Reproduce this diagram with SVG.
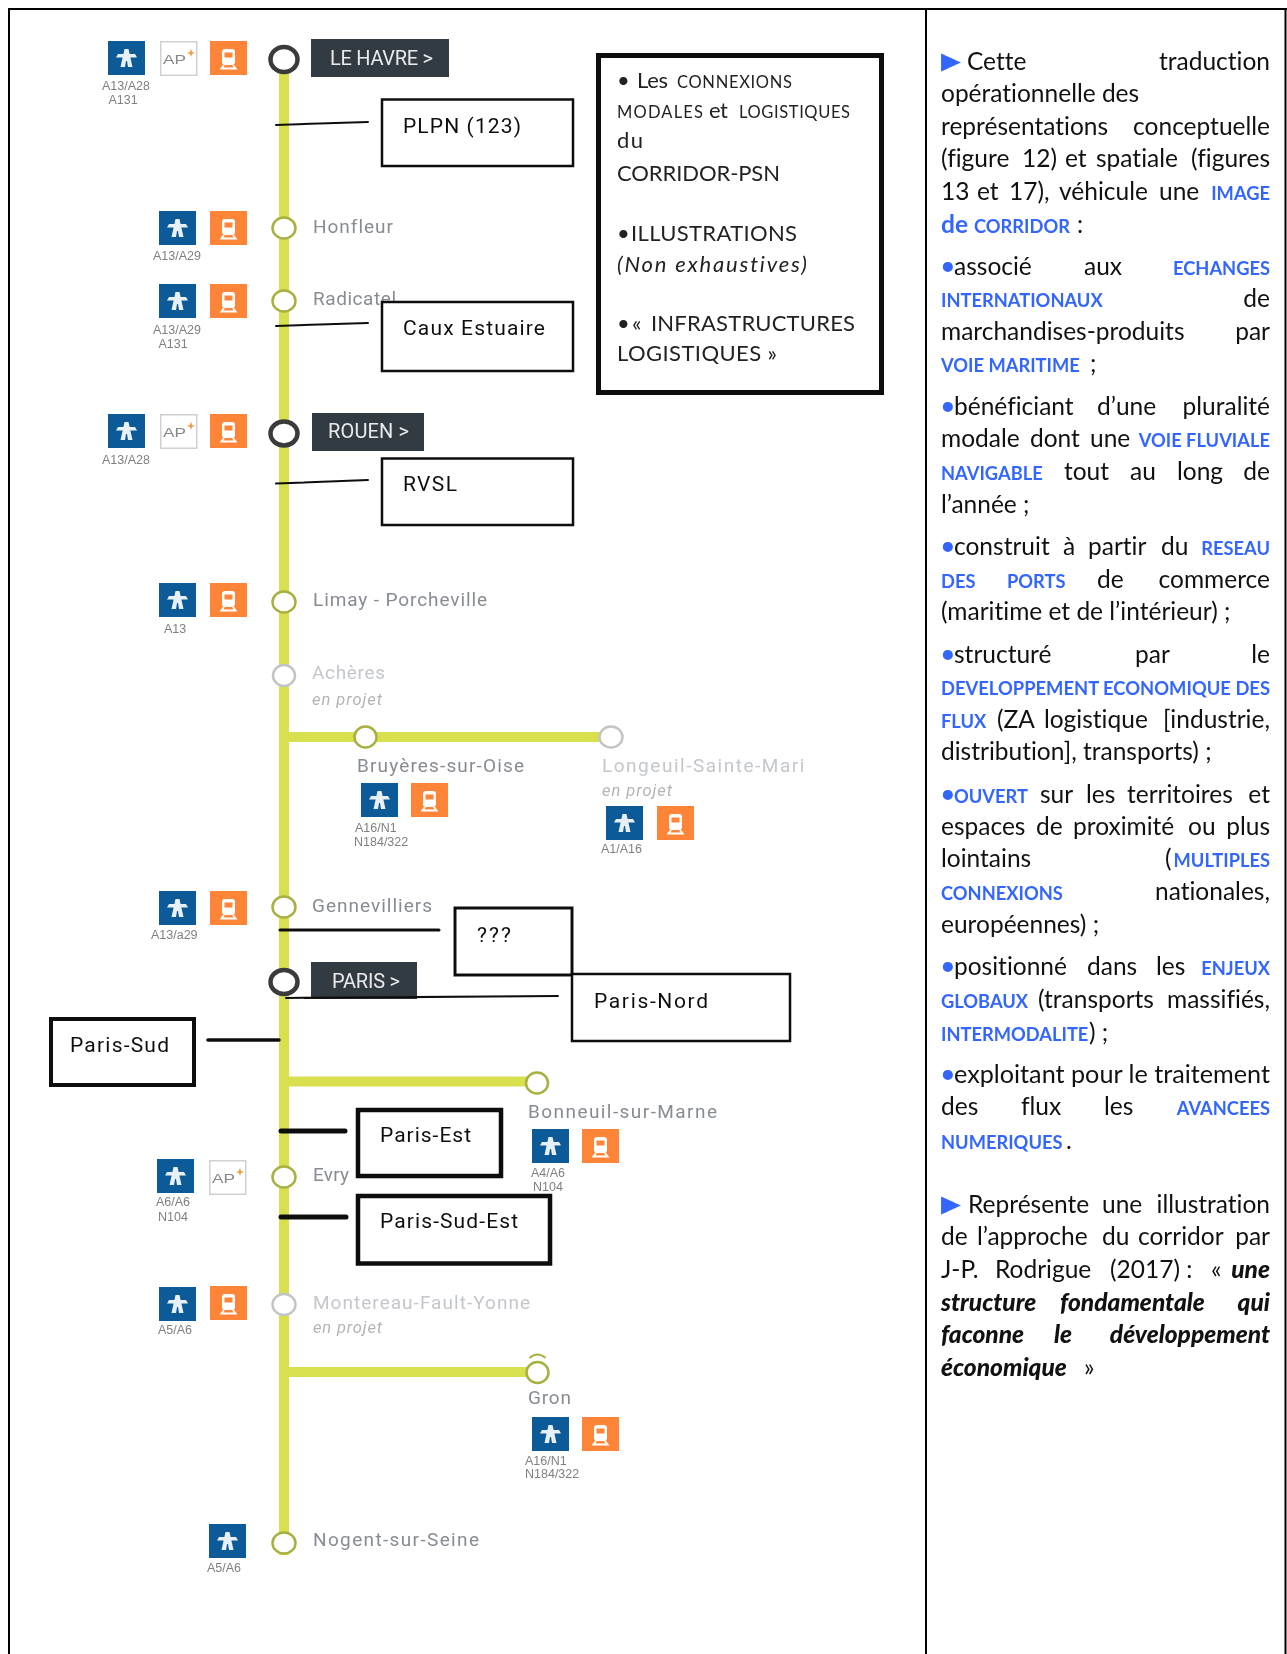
<svg xmlns="http://www.w3.org/2000/svg" width="1287" height="1654" viewBox="0 0 1287 1654">
<style>
text{font-family:"Lato","Liberation Sans",sans-serif;fill:#111;font-variant-ligatures:none}
.st{font-family:"Roboto","Liberation Sans",sans-serif;font-size:19px;fill:#878c93}
.pr{font-family:"Roboto","Liberation Sans",sans-serif;font-size:19px;fill:#c3c7cb}
.ep{font-family:"Roboto","Liberation Sans",sans-serif;font-size:16.500px;font-style:italic;fill:#b4b4b4}
.hub{font-family:"Roboto","Liberation Sans",sans-serif;font-size:20px;fill:#e8eaec}
.sm{font-family:"Liberation Sans",sans-serif;font-size:12.500px;fill:#808080;text-anchor:middle}
.sl{font-family:"Liberation Sans",sans-serif;font-size:12.500px;fill:#808080}
.apt{font-family:"Liberation Sans",sans-serif;font-size:13px;fill:#888}
.bx{font-family:"Roboto","Liberation Sans",sans-serif;font-size:21px;fill:#111}
.lg{font-size:22px;fill:#222}
.lgs{font-size:16.500px;fill:#222}
.t{font-size:24.500px;fill:#111}
.e{text-anchor:end}
.h{font-size:18.300px;font-weight:700;fill:#3366ff}
.bi{font-weight:900;font-style:italic}
.bu{font-size:27px;fill:#3366ff}
.tri{font-family:"DejaVu Sans",sans-serif;font-size:26px;fill:#3366ff}
.trunk{fill:none;stroke:#d8e04e;stroke-width:10}
.lead{fill:none;stroke:#111;stroke-linecap:round}
.hubc{fill:#fff;stroke:#3a3a3a;stroke-width:4.500}
.stop{fill:#fff;stroke:#a8b040;stroke-width:2.500}
.plan{fill:#fff;stroke:#c2c4c6;stroke-width:2.500}
.box{fill:#fff;stroke:#111}
.frame{fill:none;stroke:#000;stroke-width:2}
</style>
<defs>
<filter id="soft" filterUnits="userSpaceOnUse" x="0" y="0" width="926" height="1654"><feGaussianBlur stdDeviation="0.55"/></filter>
<clipPath id="cutLong"><rect x="590" y="750" width="216" height="40"/></clipPath>
<g id="road"><rect width="37" height="34" fill="#0b5a99"/><path d="M16.500 8h4l4 18h-4.500l-1-6h-1l-1 6h-4.500zM10 13h17l2 3.500H8z" fill="#e8f0f6"/></g>
<g id="rail"><rect width="37" height="34" fill="#fe8439"/><path d="M15 8h7a3 3 0 0 1 3 3v10a3 3 0 0 1-3 3h-7a3 3 0 0 1-3-3V11a3 3 0 0 1 3-3z" fill="#fff"/><rect x="14.500" y="11.500" width="8" height="5" fill="#fe8439"/><path d="M14 24l-2.500 3.500h14l-2.500-3.500" fill="none" stroke="#fff" stroke-width="2"/></g>
<g id="airbox"><rect x=".75" y=".75" width="36" height="33.500" fill="#fff" stroke="#d0d0d0" stroke-width="1.500"/><path d="M30 11l1-3.500 1 3.500 3 1-3 1-1 3-1-3-3-1z" fill="#f39a3c"/></g>
</defs>

<g id="diagram" filter="url(#soft)">
<g id="connectors">
<path class="trunk" d="M284 60V1555"/>
<path class="trunk" d="M284 737H611"/>
<path class="trunk" d="M284 1081.500H537"/>
<path class="trunk" d="M284 1372H537"/>
</g>

<g id="le-havre">
<use href="#road" x="108" y="41"/><use href="#airbox" x="160" y="41"/><text class="apt" x="163" y="64" textLength="23" lengthAdjust="spacingAndGlyphs">AP</text><use href="#rail" x="210" y="41"/>
<text class="sm" x="126" y="90">A13/A28</text><text class="sm" x="123" y="104">A131</text>
<ellipse class="hubc" cx="284" cy="59.500" rx="13.500" ry="12.500"/>
<rect x="311" y="39" width="138" height="38" fill="#333a43"/><text class="hub" x="330" y="65" textLength="103" lengthAdjust="spacing">LE HAVRE &gt;</text>
</g>
<g id="honfleur">
<use href="#road" x="159" y="211"/><use href="#rail" x="210" y="211"/><text class="sm" x="177" y="260">A13/A29</text>
<ellipse class="stop" cx="284" cy="228" rx="11.500" ry="10.500"/><text class="st" x="313" y="233" textLength="80" lengthAdjust="spacing">Honfleur</text>
</g>
<g id="radicatel">
<use href="#road" x="159" y="284"/><use href="#rail" x="210" y="284"/><text class="sm" x="177" y="334">A13/A29</text><text class="sm" x="173" y="348">A131</text>
<ellipse class="stop" cx="284" cy="301" rx="11.500" ry="10.500"/><text class="st" x="313" y="305" textLength="83" lengthAdjust="spacing">Radicatel</text>
</g>
<g id="rouen">
<use href="#road" x="108" y="414"/><use href="#airbox" x="160" y="414"/><text class="apt" x="163" y="437" textLength="23" lengthAdjust="spacingAndGlyphs">AP</text><use href="#rail" x="210" y="414"/><text class="sm" x="126" y="464">A13/A28</text>
<ellipse class="hubc" cx="284" cy="433.500" rx="13.500" ry="12"/>
<rect x="312" y="413" width="112" height="38" fill="#333a43"/><text class="hub" x="328" y="438" textLength="81" lengthAdjust="spacing">ROUEN &gt;</text>
</g>
<g id="limay">
<use href="#road" x="159" y="583"/><use href="#rail" x="210" y="583"/><text class="sm" x="175" y="633">A13</text>
<ellipse class="stop" cx="284" cy="602" rx="11.500" ry="10.500"/><text class="st" x="313" y="606" textLength="174" lengthAdjust="spacing">Limay - Porcheville</text>
</g>
<g id="acheres">
<ellipse class="plan" cx="284" cy="675.500" rx="11" ry="10.500"/><text class="pr" x="312" y="679" textLength="73" lengthAdjust="spacing">Achères</text><text class="ep" x="312" y="705" textLength="70" lengthAdjust="spacing">en projet</text>
</g>
<g id="bruyeres">
<ellipse class="stop" cx="365.500" cy="737" rx="11" ry="10.500"/><text class="st" x="357" y="772" textLength="167" lengthAdjust="spacing">Bruyères-sur-Oise</text>
<use href="#road" x="361" y="783"/><use href="#rail" x="411" y="783"/><text class="sl" x="355" y="832">A16/N1</text><text class="sl" x="354" y="846">N184/322</text>
</g>
<g id="longeuil">
<ellipse class="plan" cx="611" cy="737" rx="11.500" ry="10.500"/><g clip-path="url(#cutLong)"><text class="pr" x="602" y="772" textLength="214" lengthAdjust="spacing">Longeuil-Sainte-Marie</text></g><text class="ep" x="602" y="796" textLength="70" lengthAdjust="spacing">en projet</text>
<use href="#road" x="606" y="806"/><use href="#rail" x="657" y="806"/><text class="sl" x="601" y="853">A1/A16</text>
</g>
<g id="gennevilliers">
<use href="#road" x="159" y="891"/><use href="#rail" x="210" y="891"/><text class="sl" x="151" y="939">A13/a29</text>
<ellipse class="stop" cx="284" cy="907" rx="11.500" ry="10.500"/><text class="st" x="312" y="912" textLength="120" lengthAdjust="spacing">Gennevilliers</text>
</g>
<g id="paris">
<ellipse class="hubc" cx="284" cy="982" rx="13.500" ry="12"/>
<rect x="311" y="962" width="106" height="37" fill="#333a43"/><text class="hub" x="332" y="988" textLength="68" lengthAdjust="spacing">PARIS &gt;</text>
</g>
<g id="bonneuil">
<ellipse class="stop" cx="537" cy="1083" rx="11" ry="10.500"/><text class="st" x="528" y="1118" textLength="189" lengthAdjust="spacing">Bonneuil-sur-Marne</text>
<use href="#road" x="532" y="1129"/><use href="#rail" x="582" y="1129"/><text class="sm" x="548" y="1177">A4/A6</text><text class="sm" x="548" y="1191">N104</text>
</g>
<g id="evry">
<use href="#road" x="157" y="1159"/><use href="#airbox" x="209" y="1160"/><text class="apt" x="212" y="1183" textLength="23" lengthAdjust="spacingAndGlyphs">AP</text><text class="sm" x="173" y="1206">A6/A6</text><text class="sm" x="173" y="1221">N104</text>
<ellipse class="stop" cx="284" cy="1177" rx="11.500" ry="10.500"/><text class="st" x="313" y="1181" textLength="36" lengthAdjust="spacing">Evry</text>
</g>
<g id="montereau">
<use href="#road" x="159" y="1287"/><use href="#rail" x="210" y="1286"/><text class="sm" x="175" y="1334">A5/A6</text>
<ellipse class="plan" cx="284" cy="1304.500" rx="11.500" ry="10.500"/><text class="pr" x="313" y="1309" textLength="217" lengthAdjust="spacing">Montereau-Fault-Yonne</text><text class="ep" x="313" y="1333" textLength="69" lengthAdjust="spacing">en projet</text>
</g>
<g id="gron">
<path d="M529.500 1358q8-7 16 0" fill="none" stroke="#a8b040" stroke-width="1.800"/>
<ellipse class="stop" cx="537.500" cy="1372.500" rx="11" ry="10.500"/><text class="st" x="528" y="1404" textLength="43" lengthAdjust="spacing">Gron</text>
<use href="#road" x="532" y="1417"/><use href="#rail" x="582" y="1417"/><text class="sl" x="525" y="1465">A16/N1</text><text class="sl" x="525" y="1478">N184/322</text>
</g>
<g id="nogent">
<use href="#road" x="209" y="1524"/><text class="sm" x="224" y="1572">A5/A6</text>
<ellipse class="stop" cx="284" cy="1543" rx="11.500" ry="10.500"/><text class="st" x="313" y="1546" textLength="166" lengthAdjust="spacing">Nogent-sur-Seine</text>
</g>

<g id="leader-connectors">
<path class="lead" stroke-width="2" d="M276 125L368 122"/>
<path class="lead" stroke-width="2" d="M276 326L368 323"/>
<path class="lead" stroke-width="2" d="M276 483.500L368 480"/>
<path class="lead" stroke-width="3" d="M280 930H439"/>
<path class="lead" stroke-width="2" d="M286 998L558 996"/>
<path class="lead" stroke-width="3.500" d="M208 1040H279"/>
<path class="lead" stroke-width="5" d="M281 1131H345"/>
<path class="lead" stroke-width="5" d="M281 1217H346"/>
</g>

<g id="box-plpn"><rect class="box" x="382" y="99.500" width="191" height="66.500" stroke-width="2.500"/><text class="bx" x="403" y="133" textLength="118" lengthAdjust="spacing">PLPN (123)</text></g>
<g id="box-caux"><rect class="box" x="382" y="302" width="191" height="69" stroke-width="2.500"/><text class="bx" x="403" y="335" textLength="142" lengthAdjust="spacing">Caux Estuaire</text></g>
<g id="box-rvsl"><rect class="box" x="382" y="458.500" width="191" height="66.500" stroke-width="2.500"/><text class="bx" x="403" y="491" textLength="54" lengthAdjust="spacing">RVSL</text></g>
<g id="box-qqq"><rect class="box" x="455" y="908" width="117" height="67" stroke-width="3"/><text class="bx" x="477" y="942" textLength="34" lengthAdjust="spacing">???</text></g>
<g id="box-paris-nord"><rect class="box" x="572" y="974" width="218" height="67" stroke-width="2.500"/><text class="bx" x="594" y="1008" textLength="114" lengthAdjust="spacing">Paris-Nord</text></g>
<g id="box-paris-sud"><rect class="box" x="51" y="1019" width="143" height="66" stroke-width="4"/><text class="bx" x="70" y="1052" textLength="99" lengthAdjust="spacing">Paris-Sud</text></g>
<g id="box-paris-est"><rect class="box" x="358" y="1110" width="143" height="66" stroke-width="4.500"/><text class="bx" x="380" y="1142" textLength="91" lengthAdjust="spacing">Paris-Est</text></g>
<g id="box-paris-sud-est"><rect class="box" x="358" y="1196" width="192" height="67.500" stroke-width="4.500"/><text class="bx" x="380" y="1228" textLength="138" lengthAdjust="spacing">Paris-Sud-Est</text></g>

<g id="legend">
<rect class="box" x="598.500" y="55.500" width="283" height="337" stroke-width="5"/>
<text class="lg" x="617" y="88">•</text><text class="lg" x="637" y="88" textLength="31" lengthAdjust="spacing">Les</text><text class="lgs" x="677" y="88" textLength="115" lengthAdjust="spacing">CONNEXIONS</text>
<text class="lgs" x="617" y="118" textLength="86" lengthAdjust="spacing">MODALES</text><text class="lg" x="709" y="118" textLength="19" lengthAdjust="spacing">et</text><text class="lgs" x="739" y="118" textLength="111" lengthAdjust="spacing">LOGISTIQUES</text>
<text class="lg" x="617" y="148" textLength="26" lengthAdjust="spacing">du</text>
<text class="lg" x="617" y="181" textLength="163" lengthAdjust="spacing">CORRIDOR-PSN</text>
<text class="lg" x="617" y="241">•</text><text class="lg" x="631" y="241" textLength="166" lengthAdjust="spacing">ILLUSTRATIONS</text>
<text class="lg" font-style="italic" x="617" y="272" textLength="190" lengthAdjust="spacing">(Non exhaustives)</text>
<text class="lg" x="617" y="331">•</text><text class="lg" x="632" y="331">«</text><text class="lg" x="651" y="331" textLength="204" lengthAdjust="spacing">INFRASTRUCTURES</text>
<text class="lg" x="617" y="361" textLength="160" lengthAdjust="spacing">LOGISTIQUES »</text>
</g>
</g>

<g id="frame">
<path class="frame" d="M8 9H1287M9 8V1654M926 9V1654M1285.500 9V1654"/>
</g>

<g id="commentary" transform="translate(0 1.800)">
<g id="p1">
<text class="tri" transform="translate(941 70) scale(1 1.4)">►</text><text class="t" x="967" y="68">Cette</text><text class="t e" x="1270" y="68">traduction</text>
<text class="t" x="941" y="100">opérationnelle des</text>
<text class="t" x="941" y="133">représentations</text><text class="t e" x="1270" y="133">conceptuelle</text>
<text class="t" x="941" y="165">(figure</text><text class="t" x="1022" y="165">12)</text><text class="t" x="1065" y="165">et</text><text class="t" x="1096" y="165">spatiale</text><text class="t e" x="1270" y="165">(figures</text>
<text class="t" x="941" y="198">13</text><text class="t" x="977" y="198">et</text><text class="t" x="1009" y="198">17),</text><text class="t" x="1059" y="198">véhicule</text><text class="t" x="1159" y="198">une</text><text class="h e" x="1270" y="198">IMAGE</text>
<text class="h" style="font-size:24.500px" x="941" y="231">de</text><text class="h" x="974" y="231">CORRIDOR</text><text class="t" x="1077" y="231">:</text>
</g>
<g id="p2">
<text class="bu" x="940" y="273">•</text><text class="t" x="954" y="273">associé</text><text class="t" x="1084" y="273">aux</text><text class="h e" x="1270" y="273">ECHANGES</text>
<text class="h" x="941" y="305">INTERNATIONAUX</text><text class="t e" x="1270" y="305">de</text>
<text class="t" x="941" y="338">marchandises-produits</text><text class="t e" x="1270" y="338">par</text>
<text class="h" x="941" y="370">VOIE MARITIME</text><text class="t" x="1090" y="370">;</text>
</g>
<g id="p3">
<text class="bu" x="940" y="413">•</text><text class="t" x="954" y="413">bénéficiant</text><text class="t" x="1097" y="413">d’une</text><text class="t e" x="1270" y="413">pluralité</text>
<text class="t" x="941" y="445">modale</text><text class="t" x="1030" y="445">dont</text><text class="t" x="1090" y="445">une</text><text class="h e" x="1270" y="445">VOIE FLUVIALE</text>
<text class="h" x="941" y="478">NAVIGABLE</text><text class="t" x="1064" y="478">tout</text><text class="t" x="1130" y="478">au</text><text class="t" x="1177" y="478">long</text><text class="t e" x="1270" y="478">de</text>
<text class="t" x="941" y="511">l’année ;</text>
</g>
<g id="p4">
<text class="bu" x="940" y="553">•</text><text class="t" x="954" y="553">construit</text><text class="t" x="1063" y="553">à</text><text class="t" x="1088" y="553">partir</text><text class="t" x="1161" y="553">du</text><text class="h e" x="1270" y="553">RESEAU</text>
<text class="h" x="941" y="586">DES</text><text class="h" x="1007" y="586">PORTS</text><text class="t" x="1097" y="586">de</text><text class="t e" x="1270" y="586">commerce</text>
<text class="t" x="941" y="618">(maritime et de l’intérieur) ;</text>
</g>
<g id="p5">
<text class="bu" x="940" y="661">•</text><text class="t" x="954" y="661">structuré</text><text class="t" x="1135" y="661">par</text><text class="t e" x="1270" y="661">le</text>
<text class="h" x="941" y="693" textLength="329" lengthAdjust="spacingAndGlyphs">DEVELOPPEMENT ECONOMIQUE DES</text>
<text class="h" x="941" y="726">FLUX</text><text class="t" x="997" y="726">(ZA</text><text class="t" x="1044" y="726">logistique</text><text class="t e" x="1270" y="726">[industrie,</text>
<text class="t" x="941" y="758">distribution], transports) ;</text>
</g>
<g id="p6">
<text class="bu" x="940" y="801">•</text><text class="h" x="954" y="801">OUVERT</text><text class="t" x="1040" y="801">sur</text><text class="t" x="1086" y="801">les</text><text class="t" x="1127" y="801">territoires</text><text class="t e" x="1270" y="801">et</text>
<text class="t" x="941" y="833">espaces</text><text class="t" x="1036" y="833">de</text><text class="t" x="1073" y="833">proximité</text><text class="t" x="1188" y="833">ou</text><text class="t e" x="1270" y="833">plus</text>
<text class="t" x="941" y="865">lointains</text><text class="t" x="1165" y="865">(</text><text class="h e" x="1270" y="865">MULTIPLES</text>
<text class="h" x="941" y="898">CONNEXIONS</text><text class="t e" x="1270" y="898">nationales,</text>
<text class="t" x="941" y="931">européennes) ;</text>
</g>
<g id="p7">
<text class="bu" x="940" y="973">•</text><text class="t" x="954" y="973">positionné</text><text class="t" x="1087" y="973">dans</text><text class="t" x="1156" y="973">les</text><text class="h e" x="1270" y="973">ENJEUX</text>
<text class="h" x="941" y="1006">GLOBAUX</text><text class="t" x="1038" y="1006">(transports</text><text class="t e" x="1270" y="1006">massifiés,</text>
<text class="h" x="941" y="1039">INTERMODALITE</text><text class="t" x="1089" y="1039">) ;</text>
</g>
<g id="p8">
<text class="bu" x="940" y="1081">•</text><text class="t" x="954" y="1081" textLength="316" lengthAdjust="spacingAndGlyphs">exploitant pour le traitement</text>
<text class="t" x="941" y="1113">des</text><text class="t" x="1021" y="1113">flux</text><text class="t" x="1104" y="1113">les</text><text class="h e" x="1270" y="1113">AVANCEES</text>
<text class="h" x="941" y="1147">NUMERIQUES</text><text class="t" x="1066" y="1147">.</text>
</g>
<g id="p9">
<text class="tri" transform="translate(941 1213) scale(1 1.4)">►</text><text class="t" x="968" y="1211">Représente</text><text class="t" x="1102" y="1211">une</text><text class="t e" x="1270" y="1211">illustration</text>
<text class="t" x="941" y="1243">de</text><text class="t" x="977" y="1243">l’approche</text><text class="t" x="1102" y="1243">du</text><text class="t" x="1138" y="1243">corridor</text><text class="t e" x="1270" y="1243">par</text>
<text class="t" x="941" y="1276">J-P.</text><text class="t" x="995" y="1276">Rodrigue</text><text class="t" x="1110" y="1276">(2017) :</text><text class="t" x="1211" y="1276">«</text><text class="t bi e" x="1270" y="1276">une</text>
<text class="t bi" x="941" y="1309">structure</text><text class="t bi" x="1060" y="1309">fondamentale</text><text class="t bi e" x="1270" y="1309">qui</text>
<text class="t bi" x="941" y="1341">faconne</text><text class="t bi" x="1054" y="1341">le</text><text class="t bi e" x="1270" y="1341">développement</text>
<text class="t bi" x="941" y="1374">économique</text><text class="t" x="1084" y="1374">»</text>
</g>
</g>
</svg>
